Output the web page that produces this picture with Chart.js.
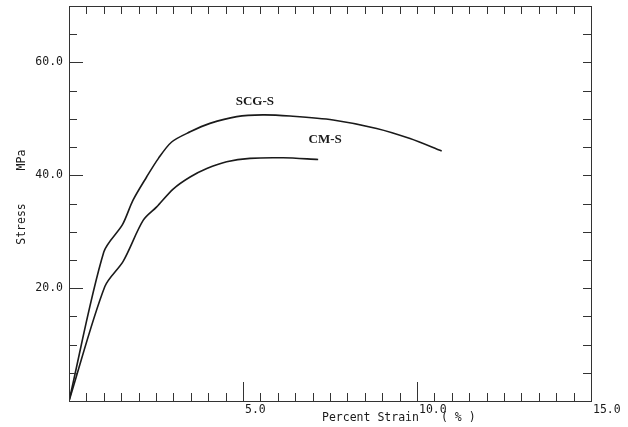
<!DOCTYPE html>
<html lang="en">
<head>
    <meta charset="UTF-8">
    <title>Stress vs Percent Strain</title>
    <script src="https://cdn.jsdelivr.net/npm/chart.js"></script>
    <style>
        body {
            margin: 0;
            background: #fff;
        }

        #wrap {
            width: 628px;
            height: 427px;
        }
    </style>
</head>
<body>
    <div id="wrap"><canvas id="stressChart" width="628" height="427"></canvas></div>

    <script>
        // values
        const strainSCG = [0, 1.0, 1.54, 1.84, 2.23, 2.57, 2.95, 3.48, 4.05, 4.82, 5.57, 6.35, 7.59, 8.84, 9.80, 10.71];
        const stressSCG = [0, 26.4, 31.3, 35.6, 39.7, 43.0, 45.9, 47.7, 49.2, 50.4, 50.7, 50.5, 49.8, 48.3, 46.5, 44.3];
        const strainCM = [0, 1.03, 1.56, 2.13, 2.52, 3.0, 3.48, 3.96, 4.53, 5.2, 6.15, 7.16];
        const stressCM = [0, 20.3, 24.8, 32.0, 34.4, 37.6, 39.7, 41.2, 42.4, 43.0, 43.1, 42.8];

        const seriesNames = ['SCG-S', 'CM-S'];
        const xMajorTicks = [5, 10, 15];
        const xTickLabels = ['5.0', '10.0', '15.0'];
        const yMajorTicks = [20, 40, 60];
        const yTickLabels = ['20.0', '40.0', '60.0'];
        const xMinorStep = 0.5;
        const yMinorStep = 5;

        // where the curve names sit (data units)
        const nameSpots = [{ x: 5.34, y: 53.0 }, { x: 7.36, y: 46.3 }];

        const ink = '#1a1a1a';
        const plotFont = '11.5px "DejaVu Sans Mono", monospace';

        const toPoints = (xs, ys) => xs.map((x, i) => ({ x: x, y: ys[i] }));

        const framePlugin = {
            id: 'frame',
            beforeDraw(chart) {
                const c = chart.ctx;
                c.save();
                c.fillStyle = '#fff';
                c.fillRect(0, 0, chart.width, chart.height);
                c.restore();
            },
            afterDraw(chart) {
                const c = chart.ctx;
                const a = chart.chartArea;
                const xs = chart.scales.x;
                const ys = chart.scales.y;
                c.save();
                c.strokeStyle = '#333';
                c.lineWidth = 1;
                c.strokeRect(a.left + 0.5, a.top + 0.5, a.right - a.left, a.bottom - a.top);

                c.beginPath();
                // x ticks, bottom (pointing up) and top (pointing down)
                for (let v = xMinorStep; v < xs.max; v += xMinorStep) {
                    const px = Math.round(xs.getPixelForValue(v)) + 0.5;
                    const len = xMajorTicks.includes(v) ? 19 : 8;
                    c.moveTo(px, a.bottom);
                    c.lineTo(px, a.bottom - len);
                    c.moveTo(px, a.top);
                    c.lineTo(px, a.top + 8);
                }
                // y ticks, left and right
                for (let v = yMinorStep; v < ys.max; v += yMinorStep) {
                    const py = Math.round(ys.getPixelForValue(v)) + 0.5;
                    const len = yMajorTicks.includes(v) ? 14 : 8;
                    c.moveTo(a.left, py);
                    c.lineTo(a.left + len, py);
                    c.moveTo(a.right, py);
                    c.lineTo(a.right - 8, py);
                }
                c.stroke();

                // tick labels
                c.fillStyle = ink;
                c.font = plotFont;
                c.textBaseline = 'middle';
                c.textAlign = 'left';
                xMajorTicks.forEach((v, i) => {
                    c.fillText(xTickLabels[i], xs.getPixelForValue(v) + 2, a.bottom + 9);
                });
                c.textAlign = 'right';
                yMajorTicks.forEach((v, i) => {
                    c.fillText(yTickLabels[i], a.left - 6, ys.getPixelForValue(v));
                });

                // axis titles
                c.textAlign = 'left';
                c.fillText('Percent Strain', 322, a.bottom + 17);
                c.fillText('( % )', 441, a.bottom + 17);
                c.save();
                c.translate(22, 224);
                c.rotate(-Math.PI / 2);
                c.textAlign = 'center';
                c.fillText('Stress', 0, 0);
                c.fillText('MPa', 64, 0);
                c.restore();

                // curve names
                c.font = 'bold 13px "Liberation Serif", "Times New Roman", serif';
                c.textAlign = 'center';
                seriesNames.forEach((name, i) => {
                    c.fillText(name, xs.getPixelForValue(nameSpots[i].x), ys.getPixelForValue(nameSpots[i].y));
                });
                c.restore();
            }
        };

        const ctx = document.getElementById('stressChart').getContext('2d');
        const stressChart = new Chart(ctx, {
            type: 'line',
            data: {
                datasets: [{
                    label: seriesNames[0],
                    data: toPoints(strainSCG, stressSCG),
                    borderColor: ink,
                    borderWidth: 1.6,
                    pointRadius: 0,
                    tension: 0.3,
                    fill: false
                }, {
                    label: seriesNames[1],
                    data: toPoints(strainCM, stressCM),
                    borderColor: ink,
                    borderWidth: 1.6,
                    pointRadius: 0,
                    tension: 0.3,
                    fill: false
                }]
            },
            options: {
                responsive: false,
                animation: false,
                layout: {
                    padding: { left: 69, right: 37, top: 6, bottom: 26 }
                },
                plugins: {
                    legend: { display: false },
                    tooltip: { enabled: false }
                },
                scales: {
                    x: { type: 'linear', min: 0, max: 15, display: false },
                    y: { type: 'linear', min: 0, max: 70, display: false }
                }
            },
            plugins: [framePlugin]
        });
    </script>
</body>
</html>
